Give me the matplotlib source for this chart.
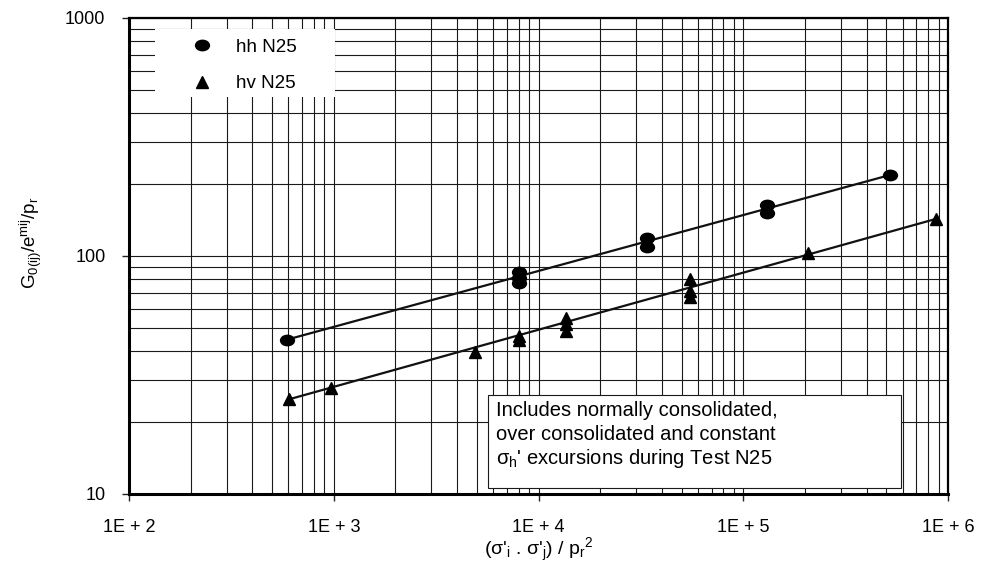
import numpy as np
import matplotlib
matplotlib.use("Agg")
import matplotlib.pyplot as plt
from matplotlib.path import Path
from matplotlib.lines import Line2D
from matplotlib.patches import Rectangle
from matplotlib.ticker import LogLocator, NullFormatter, FixedLocator

plt.rcParams['font.family'] = ['Liberation Sans', 'DejaVu Sans']
plt.rcParams['mathtext.fontset'] = 'custom'
plt.rcParams['mathtext.rm'] = 'Liberation Sans'
plt.rcParams['mathtext.it'] = 'Liberation Sans'

# hh N25 (circles)
hh_x = [590, 8000, 8000, 8000, 34000, 34000, 131000, 131000, 521000]
hh_y = [44.5, 86, 81, 77, 119, 109, 163, 152, 219]
# hv N25 (triangles)
hv_x = [605, 970, 4870, 8000, 8000, 13600, 13600, 13600, 54800, 54800, 54800, 207000, 869000]
hv_y = [25, 28, 39.5, 46, 44.5, 55, 52, 48.5, 80, 71, 67, 103, 143]

# fitted lines drawn on the chart
hh_fit_x = [590, 521000]
hh_fit_y = [44.5, 219]
hv_fit_x = [605, 869000]
hv_fit_y = [25, 143]

xtick_vals = [1e2, 1e3, 1e4, 1e5, 1e6]
xtick_labels = ['1E + 2', '1E + 3', '1E + 4', '1E + 5', '1E + 6']
ytick_vals = [10, 100, 1000]
ytick_labels = ['10', '100', '1000']

note_lines = ['Includes normally consolidated,',
              'over consolidated and constant',
              r"$\sigma_{\rm h}$' excursions during Test N25"]

W, H = 981, 567
AX_L, AX_R, AX_T, AX_B = 129, 948, 18, 494
AW, AH = AX_R - AX_L, AX_B - AX_T


def ax_x(px):
    return (px - AX_L) / AW


def ax_y(py):
    return (AX_B - py) / AH


# slightly flattened circle marker
ell = Path.unit_circle()
ell = Path(ell.vertices * np.array([1.0, 0.75]), ell.codes)

fig = plt.figure(figsize=(W / 100, H / 100), dpi=100)
ax = fig.add_axes([AX_L / W, 1 - AX_B / H, AW / W, AH / H])
ax.set_xscale('log')
ax.set_yscale('log')
ax.set_xlim(1e2, 1e6)
ax.set_ylim(10, 1000)

ax.grid(True, which='both', color='#1a1a1a', linewidth=0.8)
ax.set_axisbelow(True)

ax.xaxis.set_major_locator(FixedLocator(xtick_vals))
ax.set_xticklabels(xtick_labels)
ax.yaxis.set_major_locator(FixedLocator(ytick_vals))
ax.set_yticklabels(ytick_labels)
ax.xaxis.set_minor_locator(LogLocator(base=10, subs=np.arange(2, 10)))
ax.yaxis.set_minor_locator(LogLocator(base=10, subs=np.arange(2, 10)))
ax.xaxis.set_minor_formatter(NullFormatter())
ax.yaxis.set_minor_formatter(NullFormatter())
ax.tick_params(which='minor', length=0)
ax.tick_params(which='major', direction='out', length=5, width=1, color='#222')
ax.tick_params(axis='x', labelsize=13, pad=13)
ax.tick_params(axis='y', labelsize=13, pad=12)

for side in ['left', 'bottom']:
    ax.spines[side].set_linewidth(2.2)
for side in ['top', 'right']:
    ax.spines[side].set_linewidth(1.6)

ax.plot(hh_fit_x, hh_fit_y, color='#111', linewidth=1.6, zorder=3)
ax.plot(hv_fit_x, hv_fit_y, color='#111', linewidth=1.6, zorder=3)
ax.plot(hh_x, hh_y, linestyle='none', marker=ell, markersize=10,
        color='black', zorder=4)
ax.plot(hv_x, hv_y, linestyle='none', marker='^', markersize=8.5,
        color='black', zorder=4)

# white legend area covering the grid
ax.add_patch(Rectangle((ax_x(155), ax_y(97)), ax_x(335) - ax_x(155),
                       ax_y(29) - ax_y(97), transform=ax.transAxes,
                       facecolor='white', edgecolor='none', zorder=2.5))
leg_handles = [
    Line2D([], [], linestyle='none', marker=ell, markersize=10, color='black'),
    Line2D([], [], linestyle='none', marker='^', markersize=8.5, color='black'),
]
leg = ax.legend(leg_handles, ['hh N25', 'hv N25'], loc='upper left',
                bbox_to_anchor=(ax_x(180), ax_y(31)), fontsize=13.5,
                frameon=False, borderpad=0.4, labelspacing=1.05,
                handletextpad=1.1, handlelength=1.5, borderaxespad=0)
leg.set_zorder(5)

# note box
ax.add_patch(Rectangle((ax_x(488), ax_y(488)), ax_x(901) - ax_x(488),
                       ax_y(395) - ax_y(488), transform=ax.transAxes,
                       facecolor='white', edgecolor='#1a1a1a', linewidth=0.8,
                       zorder=2.5))
for i, line in enumerate(note_lines):
    ax.text(ax_x(496), ax_y(409 + 23 * i), line, transform=ax.transAxes,
            fontsize=14.5, va='center_baseline', ha='left', zorder=6)

ax.set_xlabel(r"($\sigma$'$_{\rm i}$ . $\sigma$'$_{\rm j}$) / p$_{\rm r}$$^{2}$",
              fontsize=14)
ax.xaxis.set_label_coords(0.5, ax_y(536))
ax.set_ylabel(r"G$_{\rm 0(ij)}$/e$^{\rm mij}$/p$_{\rm r}$", fontsize=13.5)
ax.yaxis.set_label_coords(ax_x(44), ax_y(243))

fig.savefig('out.png', dpi=100, facecolor='white')
